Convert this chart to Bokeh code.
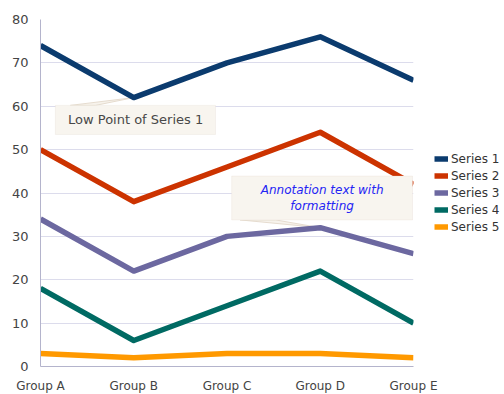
from bokeh.plotting import figure
from bokeh.models import Legend, LegendItem, BoxAnnotation, Label, FixedTicker
from bokeh.embed import file_html
from bokeh.resources import INLINE

groups = ["Group A", "Group B", "Group C", "Group D", "Group E"]
series_names = ["Series 1", "Series 2", "Series 3", "Series 4", "Series 5"]
s1 = [74, 62, 70, 76, 66]
s2 = [50, 38, 46, 54, 42]
s3 = [34, 22, 30, 32, 26]
s4 = [18, 6, 14, 22, 10]
s5 = [3, 2, 3, 3, 2]
colors = ["#0b3b6e", "#cc3300", "#6c68a0", "#006a63", "#ff9900"]
y_ticks = [0, 10, 20, 30, 40, 50, 60, 70, 80]

xs = list(range(len(groups)))
FONT = "DejaVu Sans"

p = figure(frame_width=373, frame_height=347, output_backend="svg", toolbar_location=None,
           x_range=(0, len(groups) - 1), y_range=(0, 80),
           min_border_left=40, min_border_right=91, min_border_top=19, min_border_bottom=28)
p.outline_line_color = None
p.background_fill_color = "white"

p.xgrid.grid_line_color = None
p.ygrid.grid_line_color = "#dcdcec"
p.ygrid.ticker = FixedTicker(ticks=y_ticks)

for ax in (p.xaxis, p.yaxis):
    ax.axis_line_color = "#b4b4cc"
    ax.major_tick_line_color = None
    ax.minor_tick_line_color = None
    ax.major_label_text_font = FONT
    ax.major_label_text_font_size = "12px"
    ax.major_label_text_color = "#444444"
p.yaxis.major_label_text_font_size = "13px"
p.xaxis.ticker = FixedTicker(ticks=xs)
p.xaxis.major_label_overrides = {i: g for i, g in enumerate(groups)}
p.xaxis.major_label_standoff = 6
p.yaxis.ticker = FixedTicker(ticks=y_ticks)
p.yaxis.major_label_standoff = 6

# callout 1
p.patch(x=[0.32, 0.59, 1.0], y=[60.2, 60.2, 62], fill_color="#f7f3ec",
        line_color="#e6dccf", line_width=1)
p.add_layout(BoxAnnotation(left=0.16, right=1.877, bottom=53.5, top=60.2,
                           fill_color="#f8f5ef", fill_alpha=1, line_color="#e6dccf", line_width=1,
                           level="overlay"))
p.add_layout(Label(x=1.02, y=56.85, text="Low Point of Series 1", text_font=FONT,
                   text_font_size="13px", text_color="#484848", text_align="center",
                   text_baseline="middle", level="overlay"))

# callout 2
p.patch(x=[2.14, 2.52, 3.0], y=[33.8, 33.8, 32], fill_color="#f7f3ec",
        line_color="#e6dccf", line_width=1)
p.add_layout(BoxAnnotation(left=2.05, right=3.99, bottom=33.8, top=43.9,
                           fill_color="#f8f5ef", fill_alpha=1, line_color="#e6dccf", line_width=1,
                           level="overlay"))
p.add_layout(Label(x=3.02, y=40.6, text="Annotation text with", text_font=FONT,
                   text_font_size="12px", text_font_style="italic", text_color="#2424f4",
                   text_align="center", text_baseline="middle", level="overlay"))
p.add_layout(Label(x=3.02, y=37.0, text="formatting", text_font=FONT,
                   text_font_size="12px", text_font_style="italic", text_color="#2424f4",
                   text_align="center", text_baseline="middle", level="overlay"))

items = []
for name, ys, c in zip(series_names, [s1, s2, s3, s4, s5], colors):
    r = p.line(xs, ys, line_color=c, line_width=5.5, line_join="round")
    items.append(LegendItem(label=name, renderers=[r]))

legend = Legend(items=items, location=(21, 131), border_line_color=None,
                background_fill_alpha=0, label_text_font=FONT, label_text_font_size="12px",
                label_text_color="#333333", glyph_width=14, glyph_height=17, label_height=17,
                spacing=0, padding=0, margin=0, label_standoff=3)
p.add_layout(legend, "right")

open("out.html", "w").write(file_html(p, INLINE))
